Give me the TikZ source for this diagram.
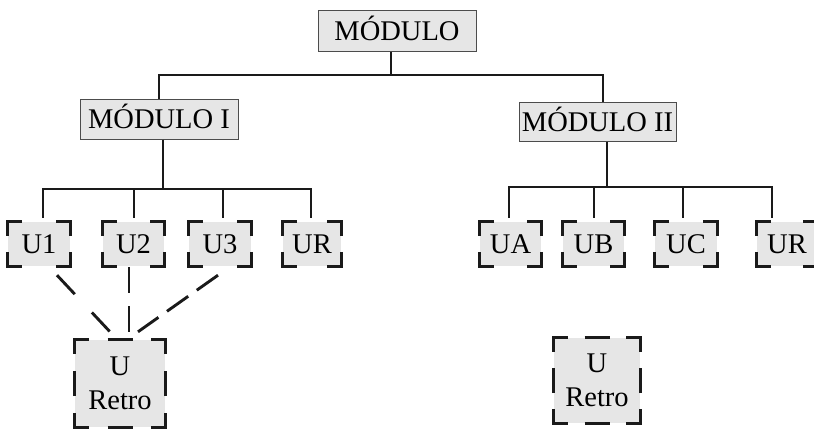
\documentclass[tikz,border=0pt]{standalone}
\usepackage{fontspec}
\setmainfont{Liberation Serif}
\definecolor{boxgray}{HTML}{E6E6E6}
\definecolor{ink}{HTML}{1A1A1A}

% corner brackets of a unit box: node name, arm length
\newcommand\bracketcorners[2]{%
  \draw[bracket] ([yshift=-#2]#1.north west) -- (#1.north west) -- ([xshift=#2]#1.north west);
  \draw[bracket] ([xshift=-#2]#1.north east) -- (#1.north east) -- ([yshift=-#2]#1.north east);
  \draw[bracket] ([yshift=#2]#1.south east) -- (#1.south east) -- ([xshift=-#2]#1.south east);
  \draw[bracket] ([xshift=#2]#1.south west) -- (#1.south west) -- ([yshift=#2]#1.south west);
}
% middle dashes on the four sides: node name, half length
\newcommand\bracketmids[2]{%
  \draw[bracket] ([xshift=-#2]#1.north) -- ([xshift=#2]#1.north);
  \draw[bracket] ([xshift=-#2]#1.south) -- ([xshift=#2]#1.south);
  \draw[bracket] ([yshift=-#2]#1.west) -- ([yshift=#2]#1.west);
  \draw[bracket] ([yshift=-#2]#1.east) -- ([yshift=#2]#1.east);
}

\begin{document}
\begin{tikzpicture}[x=1pt,y=-1pt,
  every node/.style={inner sep=0pt, font=\fontsize{28.5}{34}\selectfont},
  titlebox/.style={draw=black!70, line width=1pt, fill=boxgray,
    text height=19pt, text depth=0pt},
  unitbox/.style={fill=boxgray, minimum height=44pt,
    text height=19pt, text depth=0pt},
  retrobox/.style={fill=boxgray, align=center},
  bracket/.style={draw=ink, line width=3pt},
  wire/.style={draw=ink, line width=2.9pt},
  dashline/.style={draw=ink, line width=2.9pt}]

\useasboundingbox (0,0) rectangle (814,429);

% module boxes
\node[titlebox, minimum width=158pt, minimum height=41pt] (mod) at (397,30.5) {MÓDULO};
\node[titlebox, minimum width=158pt, minimum height=40pt] (m1) at (159,119) {MÓDULO I};
\node[titlebox, minimum width=157pt, minimum height=39pt] (m2) at (597.5,121.5) {MÓDULO II};

% unit boxes, first module
\node[unitbox, minimum width=62pt] (u1) at (39,244) {U1};
\node[unitbox, minimum width=61pt] (u2) at (133.5,244) {U2};
\node[unitbox, minimum width=62pt] (u3) at (220,244) {U3};
\node[unitbox, minimum width=58pt] (ul) at (312,244) {UR};
% unit boxes, second module
\node[unitbox, minimum width=61pt] (ua) at (510.5,244) {UA};
\node[unitbox, minimum width=61pt] (ub) at (593.5,244) {UB};
\node[unitbox, minimum width=62pt] (uc) at (686,244) {UC};
\node[unitbox, minimum width=60pt] (ur) at (787,244) {UR};

% retro boxes
\node[retrobox, minimum width=90pt, minimum height=87pt] (r1) at (120,383.5) {U\\Retro};
\node[retrobox, minimum width=86pt, minimum height=85pt] (r2) at (597,380.5) {U\\Retro};

% dashed frames
\foreach \n in {u1,u2,u3,ul,ua,ub,uc,ur,r1,r2} {\bracketcorners{\n}{14pt}}
\bracketmids{r1}{12.5pt}
\bracketmids{r2}{12.5pt}

% top level tree
\coordinate (t0) at (391,75);
\draw[wire] ([xshift=-6pt]mod.south) -- (t0);
\draw[wire] (m1.north) |- (t0) -| ([xshift=5.5pt]m2.north);

% first module tree
\coordinate (t1) at (163,189);
\draw[wire] ([xshift=4pt]m1.south) -- (t1);
\draw[wire] ([xshift=4pt,yshift=4pt]u1.north) |- (t1) -| ([xshift=-1pt,yshift=4pt]ul.north);
\coordinate (c2) at ([xshift=0.5pt,yshift=4pt]u2.north);
\coordinate (c3) at ([xshift=3pt,yshift=4pt]u3.north);
\draw[wire] (c2) -- (c2 |- t1);
\draw[wire] (c3) -- (c3 |- t1);

% second module tree
\coordinate (t2) at (607,187);
\draw[wire] ([xshift=9.5pt]m2.south) -- (t2);
\draw[wire] ([xshift=-1.5pt,yshift=4pt]ua.north) |- (t2) -| ([xshift=-15pt,yshift=4pt]ur.north);
\coordinate (cb) at ([xshift=0.5pt,yshift=4pt]ub.north);
\coordinate (cc) at ([xshift=-3pt,yshift=4pt]uc.north);
\draw[wire] (cb) -- (cb |- t2);
\draw[wire] (cc) -- (cc |- t2);

% dashed links to the retro unit
\draw[dashline, dash pattern=on 26pt off 25pt]
  ([xshift=18pt,yshift=-9pt]u1.south) -- ([xshift=-10pt,yshift=8pt]r1.north);
\draw[dashline, dash pattern=on 26pt off 13pt]
  ([xshift=-4.5pt,yshift=-1pt]u2.south) -- ([xshift=9pt,yshift=8pt]r1.north);
\draw[dashline, dash pattern=on 26pt off 10.5pt]
  ([xshift=-2pt,yshift=-9pt]u3.south) -- ([xshift=18pt,yshift=8pt]r1.north);
\end{tikzpicture}
\end{document}
